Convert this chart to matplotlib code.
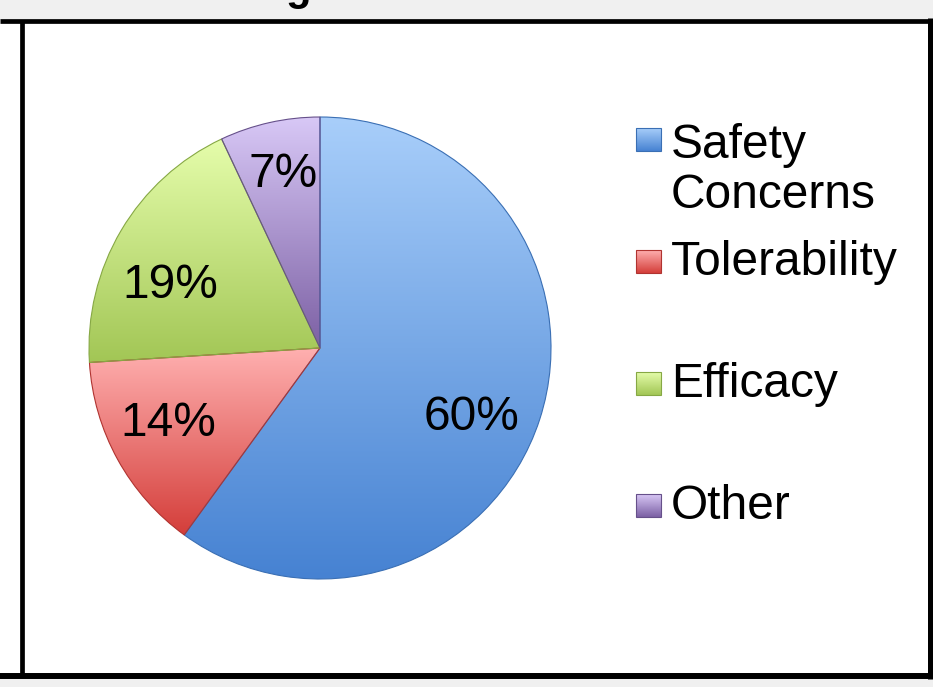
import numpy as np
import matplotlib
matplotlib.use("Agg")
import matplotlib.pyplot as plt
from matplotlib.colors import LinearSegmentedColormap
from matplotlib.patches import Rectangle

plt.rcParams['font.family'] = ['Liberation Sans', 'DejaVu Sans']

# Reasons, share of responses (%)
reasons = ["Safety\nConcerns", "Tolerability", "Efficacy", "Other"]
shares = [60, 14, 19, 7]

# gradient fill per slice: (top colour, bottom colour)
tops = ["#a8cefa", "#ffb0b0", "#e5fdab", "#d8c8f6"]
bottoms = ["#4682d2", "#d43e3a", "#a2c655", "#7c60a4"]
edges = ["#3a6fb4", "#b03330", "#86a844", "#66508a"]
# nudges for the percentage labels, in pixels (right, down)
label_nudge = [(-7, 18), (-6, -5), (-7, 22), (-1, -11)]

W, H = 933, 687
FS = 34.5
fig = plt.figure(figsize=(W / 100, H / 100), dpi=100, facecolor="#f0f0f0")

# ---- frame layer in pixel coordinates ----
bg = fig.add_axes([0, 0, 1, 1], zorder=0)
bg.set_xlim(0, W)
bg.set_ylim(H, 0)
bg.axis("off")
bg.add_patch(Rectangle((0, 20), 928, 656, facecolor="white", edgecolor="none"))
bg.plot([0, 932], [20.5, 20.5], color="black", lw=3.4, solid_capstyle="butt")
bg.plot([0, 932], [676, 676], color="black", lw=4.3, solid_capstyle="butt")
bg.plot([929.5, 929.5], [18, 679], color="black", lw=3.6, solid_capstyle="butt")
bg.plot([21.5, 21.5], [20, 676], color="black", lw=3.4, solid_capstyle="butt")

# bottom of the slide heading, cut off by the crop
fig.text(311 / W, 1 + 0.5 / H, "g", ha="right", va="baseline",
         fontsize=30, fontweight="bold", color="black")

# ---- pie ----
cx, cy, r = 320, 348, 231
pad = 1.03
half = r * pad
ax = fig.add_axes([(cx - half) / W, (H - cy - half) / H, 2 * half / W, 2 * half / H],
                  zorder=1)
ax.patch.set_alpha(0)

wedges, _, autotexts = ax.pie(
    shares, colors=tops, startangle=90, counterclock=False, radius=1,
    autopct="%.0f%%", pctdistance=0.72,
    textprops=dict(fontsize=FS, color="black"),
)

grad = np.linspace(0, 1, 256).reshape(-1, 1)
for w, top, bot, ec in zip(wedges, tops, bottoms, edges):
    x0, y0, x1, y1 = w.get_path().get_extents().extents
    cmap = LinearSegmentedColormap.from_list("", [bot, top])
    im = ax.imshow(grad, extent=(x0, x1, y0, y1), origin="lower", cmap=cmap,
                   aspect="auto", zorder=2, interpolation="bilinear")
    im.set_clip_path(w)
    w.set_facecolor("none")
    w.set_edgecolor(ec)
    w.set_linewidth(0.8)
    w.set_zorder(3)

for t, (dx, dy) in zip(autotexts, label_nudge):
    x, y = t.get_position()
    t.set_position((x + dx / r, y - dy / r))
    t.set_zorder(5)

ax.set_xlim(-pad, pad)
ax.set_ylim(-pad, pad)
ax.set_aspect("auto")
ax.axis("off")

# ---- legend ----
base0, step, line_h = 153, 122, 55
for i, (label, top, bot, ec) in enumerate(zip(reasons, tops, bottoms, edges)):
    base = base0 + i * step
    sq = (636, 661, base - 2, base - 25)
    cmap = LinearSegmentedColormap.from_list("", [bot, top])
    bg.imshow(grad, extent=sq, origin="lower", cmap=cmap, aspect="auto", zorder=2)
    bg.add_patch(Rectangle((sq[0], sq[3]), sq[1] - sq[0], sq[2] - sq[3],
                           facecolor="none", edgecolor=ec, lw=0.8, zorder=3))
    # baseline alignment uses the last line of a wrapped label
    last = base + label.count("\n") * line_h
    bg.text(671, last, label, ha="left", va="baseline", fontsize=FS,
            color="black", linespacing=55 / (FS * 100 / 72) / 1.0, zorder=3)

bg.set_xlim(0, W)
bg.set_ylim(H, 0)

fig.savefig("out.png", dpi=100, facecolor=fig.get_facecolor())
